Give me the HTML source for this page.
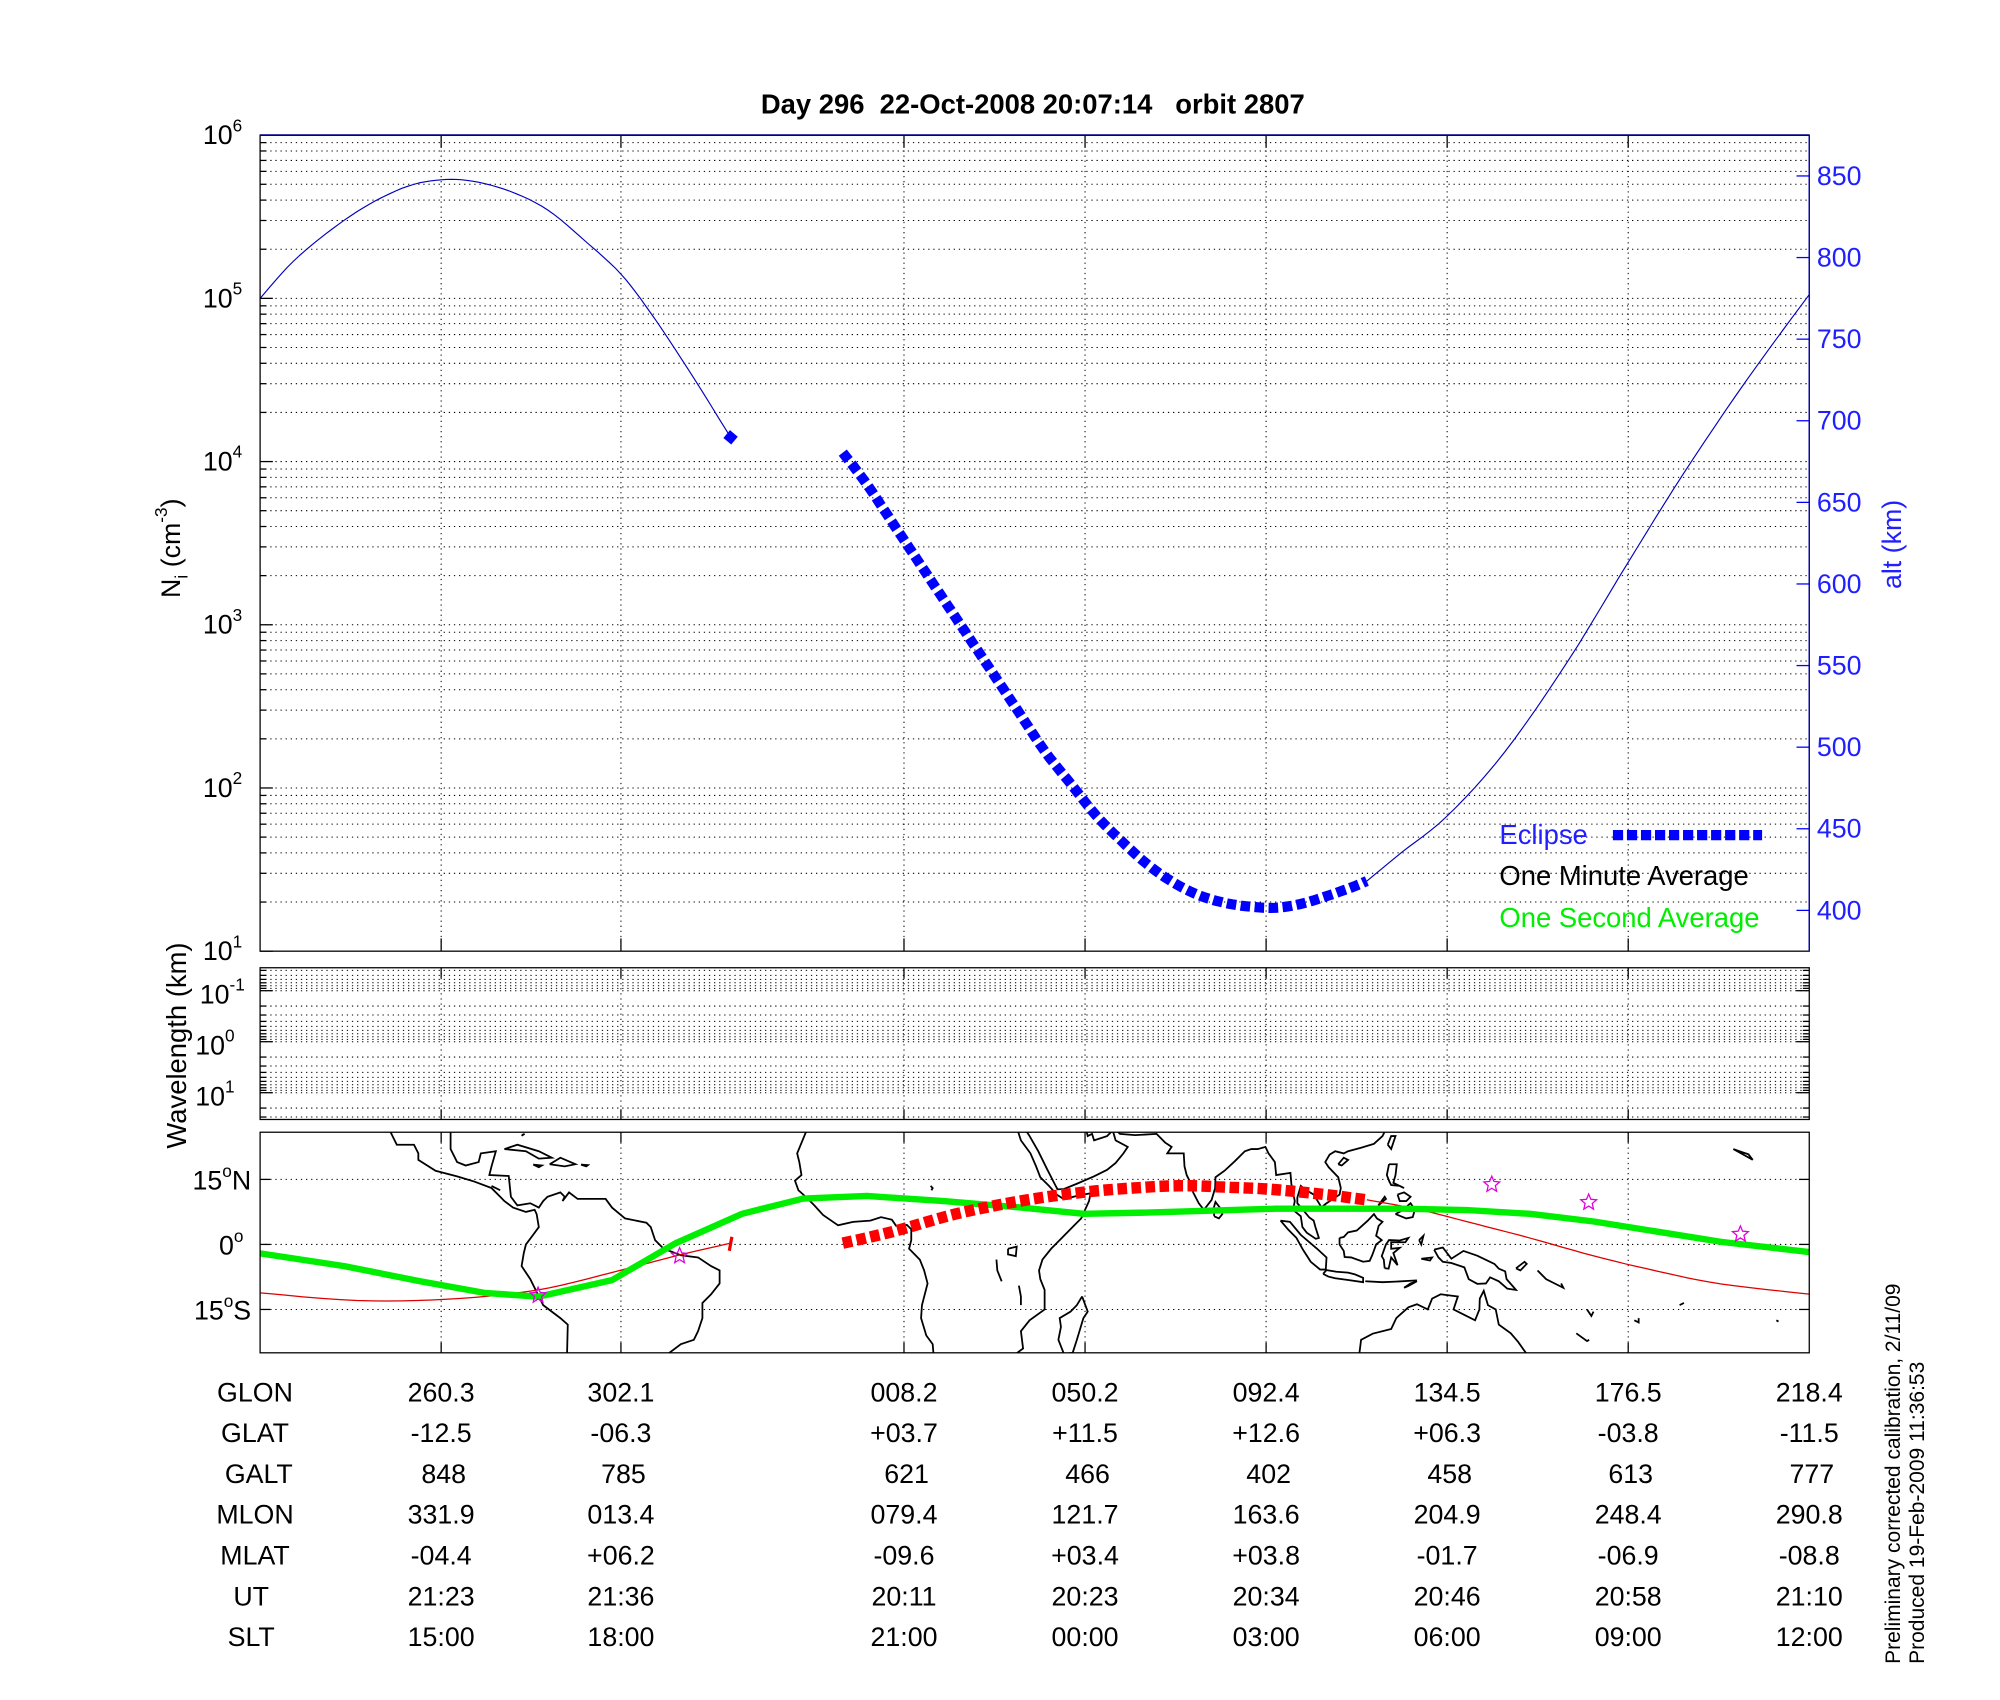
<!DOCTYPE html>
<html><head><meta charset="utf-8"><style>
html,body{margin:0;padding:0;background:#fff;}
svg{display:block;}
text{font-family:"Liberation Sans",Arial,sans-serif;}
</style></head><body>
<svg id="s" xmlns="http://www.w3.org/2000/svg" width="2000" height="1700" viewBox="0 0 1568.6 1333.3" preserveAspectRatio="none">
<rect x="0" y="0" width="1570" height="1334" fill="#fff"/>
<g id="grid"></g>
<clipPath id="mapclip"><rect x="204" y="888" width="1215" height="173"/></clipPath>
<g id="coast" clip-path="url(#mapclip)" fill="none" stroke="#000" stroke-width="1.4"></g>
<g id="data"></g>
<rect x="204" y="106" width="1215" height="640" fill="none" stroke="#000" stroke-width="1"/>
<line x1="204" y1="106" x2="1419" y2="106" stroke="#00008b" stroke-width="1.4"/>
<line x1="1419" y1="106" x2="1419" y2="746" stroke="#0000cc" stroke-width="1"/>
<rect x="204" y="759" width="1215" height="119" fill="none" stroke="#000" stroke-width="1"/>
<rect x="204" y="888" width="1215" height="173" fill="none" stroke="#000" stroke-width="1"/>

<text x="810" y="89" font-size="21.5" font-weight="bold" text-anchor="middle">Day 296&#160; 22-Oct-2008 20:07:14 &#160; orbit 2807</text>

<g font-size="21" text-anchor="end">
<text x="190" y="113">10<tspan font-size="13.5" dy="-10">6</tspan></text>
<text x="190" y="241">10<tspan font-size="13.5" dy="-10">5</tspan></text>
<text x="190" y="369">10<tspan font-size="13.5" dy="-10">4</tspan></text>
<text x="190" y="497">10<tspan font-size="13.5" dy="-10">3</tspan></text>
<text x="190" y="625">10<tspan font-size="13.5" dy="-10">2</tspan></text>
<text x="190" y="753">10<tspan font-size="13.5" dy="-10">1</tspan></text>
</g>
<g font-size="21" text-anchor="end">
<text x="192" y="787">10<tspan font-size="13.5" dy="-10">-1</tspan></text>
<text x="184" y="827">10<tspan font-size="13.5" dy="-10">0</tspan></text>
<text x="184" y="867">10<tspan font-size="13.5" dy="-10">1</tspan></text>
</g>
<g font-size="21" fill="#1f1fff">
<text x="1425" y="145">850</text>
<text x="1425" y="209">800</text>
<text x="1425" y="273">750</text>
<text x="1425" y="337">700</text>
<text x="1425" y="401">650</text>
<text x="1425" y="465">600</text>
<text x="1425" y="529">550</text>
<text x="1425" y="593">500</text>
<text x="1425" y="657">450</text>
<text x="1425" y="721">400</text>
</g>
<text transform="translate(141,430) rotate(-90)" font-size="21" text-anchor="middle">N<tspan font-size="14" dy="6">i</tspan><tspan dy="-6"> (cm</tspan><tspan font-size="13.5" dy="-10">-3</tspan><tspan dy="10">)</tspan></text>
<text transform="translate(1491,427) rotate(-90)" font-size="21" fill="#1f1fff" text-anchor="middle">alt (km)</text>
<text transform="translate(146,820) rotate(-90)" font-size="21.5" text-anchor="middle">Wavelength (km)</text>

<g font-size="21" text-anchor="end">
<text x="197" y="933">15<tspan font-size="13.5" dy="-10">o</tspan><tspan dy="10">N</tspan></text>
<text x="191" y="984">0<tspan font-size="13.5" dy="-10">o</tspan></text>
<text x="197" y="1035">15<tspan font-size="13.5" dy="-10">o</tspan><tspan dy="10">S</tspan></text>
</g>

<g font-size="21.5" fill="#1f1fff"><text x="1176" y="662">Eclipse</text></g>
<text x="1176" y="694" font-size="21.5">One Minute Average</text>
<text x="1176" y="727" font-size="21.5" fill="#00ee00">One Second Average</text>
<line x1="1265" y1="655" x2="1382" y2="655" stroke="#0000ff" stroke-width="8" stroke-dasharray="8 3"/>

<g font-size="21" text-anchor="middle">
<text x="200" y="1099">GLON</text><text x="346" y="1099">260.3</text><text x="487" y="1099">302.1</text><text x="709" y="1099">008.2</text><text x="851" y="1099">050.2</text><text x="993" y="1099">092.4</text><text x="1135" y="1099">134.5</text><text x="1277" y="1099">176.5</text><text x="1419" y="1099">218.4</text>
<text x="200" y="1131">GLAT</text><text x="346" y="1131">-12.5</text><text x="487" y="1131">-06.3</text><text x="709" y="1131">+03.7</text><text x="851" y="1131">+11.5</text><text x="993" y="1131">+12.6</text><text x="1135" y="1131">+06.3</text><text x="1277" y="1131">-03.8</text><text x="1419" y="1131">-11.5</text>
<text x="203" y="1163">GALT</text><text x="348" y="1163">848</text><text x="489" y="1163">785</text><text x="711" y="1163">621</text><text x="853" y="1163">466</text><text x="995" y="1163">402</text><text x="1137" y="1163">458</text><text x="1279" y="1163">613</text><text x="1421" y="1163">777</text>
<text x="200" y="1195">MLON</text><text x="346" y="1195">331.9</text><text x="487" y="1195">013.4</text><text x="709" y="1195">079.4</text><text x="851" y="1195">121.7</text><text x="993" y="1195">163.6</text><text x="1135" y="1195">204.9</text><text x="1277" y="1195">248.4</text><text x="1419" y="1195">290.8</text>
<text x="200" y="1227">MLAT</text><text x="346" y="1227">-04.4</text><text x="487" y="1227">+06.2</text><text x="709" y="1227">-09.6</text><text x="851" y="1227">+03.4</text><text x="993" y="1227">+03.8</text><text x="1135" y="1227">-01.7</text><text x="1277" y="1227">-06.9</text><text x="1419" y="1227">-08.8</text>
<text x="197" y="1259">UT</text><text x="346" y="1259">21:23</text><text x="487" y="1259">21:36</text><text x="709" y="1259">20:11</text><text x="851" y="1259">20:23</text><text x="993" y="1259">20:34</text><text x="1135" y="1259">20:46</text><text x="1277" y="1259">20:58</text><text x="1419" y="1259">21:10</text>
<text x="197" y="1291">SLT</text><text x="346" y="1291">15:00</text><text x="487" y="1291">18:00</text><text x="709" y="1291">21:00</text><text x="851" y="1291">00:00</text><text x="993" y="1291">03:00</text><text x="1135" y="1291">06:00</text><text x="1277" y="1291">09:00</text><text x="1419" y="1291">12:00</text>
</g>
<g font-size="16.5">
<text transform="translate(1490,1305) rotate(-90)">Preliminary corrected calibration, 2/11/09</text>
<text transform="translate(1509,1305) rotate(-90)">Produced 19-Feb-2009 11:36:53</text>
</g>
</svg>
<script>
(function(){
var NS="http://www.w3.org/2000/svg";
function el(p,tag,attrs){var e=document.createElementNS(NS,tag);for(var k in attrs)e.setAttribute(k,attrs[k]);p.appendChild(e);return e;}
var grid=document.getElementById('grid'),data=document.getElementById('data'),coast=document.getElementById('coast');
var gx=[346,487,709,851,993,1135,1277];
var dot={stroke:"#000","stroke-width":"0.8","stroke-dasharray":"1 3",fill:"none"};
function hl(y,x1,x2){var a=Object.assign({x1:x1,x2:x2,y1:y,y2:y},dot);el(grid,'line',a);}
function vl(x,y1,y2){var a=Object.assign({x1:x,x2:x,y1:y1,y2:y2},dot);el(grid,'line',a);}
function tk(x1,y1,x2,y2,c){el(grid,'line',{x1:x1,y1:y1,x2:x2,y2:y2,stroke:c||"#000","stroke-width":"1"});}
for(var d=0;d<5;d++){var yb=746-128*d;for(var k=1;k<=9;k++){var y=yb-128*Math.log10(k);if(k>1||d>0){hl(y,204,1419);} tk(204,y,204+(k==1?10:5),y);} }
hl(106,204,1419);
gx.forEach(function(x){vl(x,106,746);tk(x,746,x,736);tk(x,106,x,116);vl(x,759,878);tk(x,878,x,870);tk(x,759,x,767);vl(x,888,1061);tk(x,1061,x,1053);tk(x,888,x,896);});
for(var a=400;a<=850;a+=50){var y=714-(a-400)*1.28;tk(1409,y,1419,y,"#0000ff");}
[737,777,817,857].forEach(function(yd){for(var k=1;k<=9;k++){var y=yd+40*Math.log10(k);if(y>760&&y<877){hl(y,204,1419);tk(204,y,204+(k==1?10:5),y);tk(1419,y,1419-(k==1?10:5),y);}}});
[925,976,1027].forEach(function(y){hl(y,204,1419);tk(204,y,212,y);tk(1419,y,1411,y);});
function pts(a){return a.map(function(p){return p[0]+","+p[1];}).join(" ");}
function smooth(a,n){var out=[];for(var i=0;i<a.length-1;i++){var p0=a[Math.max(0,i-1)],p1=a[i],p2=a[i+1],p3=a[Math.min(a.length-1,i+2)];for(var t=0;t<n;t++){var s=t/n,s2=s*s,s3=s2*s;var f=function(j){return 0.5*((2*p1[j])+(-p0[j]+p2[j])*s+(2*p0[j]-5*p1[j]+4*p2[j]-p3[j])*s2+(-p0[j]+3*p1[j]-3*p2[j]+p3[j])*s3);};out.push([f(0).toFixed(1),f(1).toFixed(1)]);}}out.push(a[a.length-1]);return out;}
function X(lon){var u=lon< -142?lon+720:lon+360;return 346+(u-260.3)*3.376;}
function Y(lat){return 976-lat*3.4;}
var C=[
[[-112,27],[-110,23],[-106,23],[-105,21],[-105,19.5],[-101,17],[-96,15.7],[-92,14.5],[-88,13],[-86,11],[-85,10],[-83,8.5],[-80,7.5],[-78,8],[-77.5,7],[-77,4],[-78.5,2],[-80,0],[-80.5,-2],[-81,-5],[-79,-8],[-77,-12],[-76,-14],[-72,-17],[-70.3,-18.5],[-70.5,-27]],
[[-97.5,27],[-97.5,22],[-96,19],[-94,18.2],[-91,19],[-90.5,21],[-87,21.5],[-88,18],[-88.5,16],[-84,15.8],[-83.5,11],[-82,9],[-79,9.5],[-77,8.5],[-76,10],[-75,11],[-72,12],[-71,11],[-71.5,10],[-70,12],[-68,10.5],[-64,10.5],[-61.5,10.5],[-60,8.5],[-57,6],[-52,5],[-51,4],[-50,1],[-48,-1],[-44,-2.5],[-40,-3],[-37,-5],[-35,-6],[-35,-9],[-37,-11.5],[-39,-13.5],[-39,-17],[-40,-20],[-41,-22],[-44,-23],[-48,-26]],
[[-85,22],[-82,23],[-77,21.5],[-74,20],[-77,19.8],[-80,21.5],[-85,22]],
[[-74.5,18.5],[-72,20],[-68.5,18.5],[-71,18],[-74.5,18.5]],
[[-78.3,18.4],[-76.3,18.2],[-77,17.8],[-78.3,18.4]],
[[-67.2,18.4],[-65.6,18.3],[-66,18],[-67.2,18.4]],
[[-80.5,25.5],[-81,25.1],[-80.3,25.5]],
[[-14.5,27],[-17,21],[-16.5,19],[-16,16],[-17.5,14.7],[-16.7,12.5],[-15,11],[-13,9],[-11,6.8],[-7.5,4.4],[-4,5.2],[0,5.5],[2.5,6.3],[5,5.7],[6,4.3],[8.5,4.5],[9.5,3.5],[9.5,1],[9,-1],[11.5,-3.5],[12.5,-6],[13.3,-9],[12,-14],[11.8,-17],[13,-21],[14.5,-23],[14.8,-27]],
[[34,27],[35,24],[37.2,21],[38.5,18],[39.5,15.5],[41.5,13.5],[43.3,11.5],[45,10.4],[48,11.2],[51.2,11.8],[50.8,10],[49,6],[47.5,4.5],[45,2],[42,-1],[40,-3.5],[39.2,-6],[39.5,-8],[40.5,-10.5],[40.5,-15],[37,-17.5],[35,-20],[35.5,-24],[32.8,-26]],
[[35,28],[37,25],[39,21.5],[41,17.5],[42.8,14],[43.5,12.7],[45,12.8],[48,14],[52,15.7],[55,17.2],[57,18.8],[58.8,21],[59.8,22.5],[57,24],[56.3,26.3],[55,25],[52,24],[51.5,25.5],[50.5,25],[50,27]],
[[56.5,27],[58,25.5],[61.5,25.2],[66.5,25.5],[68.5,23.5],[70,22.5],[69,21],[72.8,21],[73,18],[73.5,16],[74.5,14],[75,12],[76.3,9.5],[77.5,8],[78.3,9],[79.3,10.3],[80.1,13],[80.2,15.5],[82.3,17],[84.7,19.2],[87,21.5],[88.5,22],[90,22],[91.8,22.5],[92.5,21],[94,19],[94.3,16],[97.6,16.5],[97.8,14],[98.6,10],[98.2,8],[100,6.5],[100.4,4],[101.4,2.7],[103.5,1.3],[104.2,1.5],[103.4,4],[103,5.5],[102,6.2],[100.5,8],[99.2,9.5],[99.2,10.8],[100,13.5],[101,12.7],[103,11.5],[104.8,8.6],[106,9.5],[109,11.5],[109.3,13],[108.7,15.5],[106.5,17.8],[105.7,19],[106.7,20.7],[108,21.5],[110,21],[111,21.5],[114,22.3],[117,23.2],[119,25],[120,27]],
[[79.9,6.5],[79.8,8.5],[80.2,9.8],[81.2,8.5],[81.8,7],[81,6],[79.9,6.5]],
[[49.2,-12],[50.5,-15.5],[49.5,-17],[48,-22],[47,-25],[45,-25.3],[43.7,-22],[44.3,-19],[44,-17],[46.5,-15.5],[48,-14],[49.2,-12]],
[[95.3,5.5],[97.5,5.2],[100,2.2],[103.8,-1],[106,-3],[105.8,-5.8],[104.5,-5.8],[102.3,-4],[100.5,-1.2],[99,1.5],[97,3.5],[95.3,5.5]],
[[105.2,-6.8],[106,-5.9],[108.3,-6.3],[111,-6.5],[112.6,-6.9],[114.5,-7.7],[114.5,-8.7],[111,-8.2],[108,-7.8],[106.4,-7.4],[105.2,-6.8]],
[[109,1.5],[110,1.7],[111,2.8],[113,3.2],[115.5,5.4],[117,7],[117.7,6],[119,5.2],[118.1,4.3],[117.5,2],[118.8,1],[117.5,0],[116.6,-2.5],[116,-3.8],[114.5,-4],[111.7,-3],[110.2,-2.9],[110,-1.5],[109,0],[109,1.5]],
[[119.5,-5.5],[119.3,-3.5],[118.8,-2.7],[119.8,0],[120.5,1],[123,0.9],[125,1.5],[124.3,0.5],[121,0.5],[121,-1],[123,-0.8],[121.5,-2],[122.5,-4.8],[121,-3],[120.4,-5.6],[119.5,-5.5]],
[[120.5,18.5],[122.3,18.5],[122,16],[121.5,14.2],[124,13],[123,13.5],[121,13.7],[120.6,14.5],[120,16],[120.5,18.5]],
[[122,7],[123.5,7.8],[125.5,9.5],[126.5,8],[126,6.3],[124.5,6],[122,7]],
[[122.5,11.5],[124,12],[125.5,11],[124.5,10],[123,10],[122.5,11.5]],
[[118,9],[119.5,11],[119.8,10.5],[118,9]],
[[120.2,23],[121,25],[122,25],[121,22],[120.2,23]],
[[108.7,18.5],[110,20],[111,19.5],[109.5,18.2],[108.7,18.5]],
[[131,-1.2],[133,-0.7],[135,-3.3],[137.8,-1.5],[141,-2.6],[145,-4.5],[146,-5.6],[147.5,-6.2],[147.8,-8],[150,-10.5],[148,-10.2],[146,-8.5],[144,-7.6],[143,-9],[141,-9.1],[139,-8],[138,-5.3],[135,-4.3],[133,-4],[132,-3],[131,-1.2]],
[[113.5,-26],[114,-22],[116.7,-20.6],[121,-19.5],[122.2,-17],[125,-14.5],[127,-13.8],[129.5,-15],[130.5,-12.5],[132.5,-11.5],[136.5,-12],[136,-13.5],[135.5,-15],[137.5,-16],[140.5,-17.5],[141.5,-15],[141.6,-12.5],[142.5,-10.7],[143.5,-14],[145.3,-15],[146,-18.5],[148.8,-20.5],[150.5,-22.5],[153,-26]],
[[115,-8.5],[119,-8.7],[122,-8.6],[125,-8.4],[127,-8.3]],
[[124,-10],[125.5,-9],[127,-8.5],[125,-9.6],[124,-10]],
[[127.5,1],[128.5,2],[128,0],[127.5,1]],
[[128,-3.3],[130.5,-3],[130,-3.7],[128,-3.3]],
[[150,-5.5],[152,-4],[152.5,-4.5],[151,-6],[150,-5.5]],
[[155,-6],[157,-8],[160,-9.5],[161,-10],[160.5,-9]],
[[166.5,-15],[167.5,-16.5],[168,-15.5]],
[[164,-20.5],[166.5,-22.3],[167,-22]],
[[177.5,-17.5],[178.5,-18],[178.5,-17]],
[[-155,19.5],[-156,20.8],[-157.5,21.3],[-159.5,22],[-155,19.5]],
[[-171,-13.5],[-172,-14]],
[[-149.5,-17.5],[-149,-17.8]],
[[32,-1],[34,-0.5],[33.8,-2.7],[32,-2.3],[32,-1]],
[[29.3,-3.5],[29.5,-6],[30.5,-8.5]],
[[34.5,-9.5],[35,-12],[35,-14]],
[[14,13.5],[14.5,13],[14.2,12.5]],
[[-88,13.5],[-86,12.5]],
[[-78,-0.5],[-77.9,-0.6]]
];
C.forEach(function(c){el(coast,'polyline',{points:pts(c.map(function(p){return [X(p[0]).toFixed(1),Y(p[1]).toFixed(1)];}))});});
var left=[[204,234],[230,205],[260,180],[290,160],[320,146],[346,141],[370,142],[400,150],[430,165],[460,190],[487,215],[510,245],[540,290],[573,343]];
el(data,'polyline',{points:pts(smooth(left,6)),fill:"none",stroke:"#0000bb","stroke-width":"0.9"});
el(data,'rect',{x:569,y:339,width:8,height:8,fill:"#0000ff",transform:"rotate(40 573 343)"});
var right=[[1072,691],[1100,668],[1135,640],[1180,590],[1230,518],[1277,441],[1320,372],[1370,298],[1419,231]];
el(data,'polyline',{points:pts(smooth(right,6)),fill:"none",stroke:"#0000bb","stroke-width":"0.9"});
var ecl=[[661,355],[680,380],[700,410],[720,440],[740,470],[760,500],[780,530],[800,560],[820,590],[840,615],[860,640],[880,660],[900,678],[920,692],[940,702],[960,708],[980,711],[1000,712],[1020,709],[1040,703],[1060,696],[1072,691]];
el(data,'polyline',{points:pts(smooth(ecl,6)),fill:"none",stroke:"#0000ff","stroke-width":"8","stroke-dasharray":"7.5 3.5"});
var rl=[[204,1014],[280,1020],[350,1019],[420,1012],[480,998],[530,985],[573,975]];
el(data,'polyline',{points:pts(smooth(rl,6)),fill:"none",stroke:"#dd0000","stroke-width":"1"});
el(data,'line',{x1:574,y1:970,x2:572,y2:981,stroke:"#ee0000","stroke-width":"2.5"});
var rr=[[1072,941],[1110,948],[1150,958],[1200,971],[1250,985],[1300,997],[1350,1007],[1419,1015]];
el(data,'polyline',{points:pts(smooth(rr,6)),fill:"none",stroke:"#dd0000","stroke-width":"1"});
var gr=[[204,983],[270,993],[330,1005],[380,1014],[422,1017],[480,1004],[530,975],[582,952],[630,940],[680,938],[740,942],[800,947],[850,952],[900,951],[1000,948],[1100,948],[1150,949],[1200,952],[1250,958],[1300,966],[1350,974],[1419,982]];
el(data,'polyline',{points:pts(gr),fill:"none",stroke:"#00ee00","stroke-width":"5","stroke-linejoin":"round"});
var rt=[[661,975],[700,966],[750,952],[800,942],[850,935],[900,931],[930,930],[960,931],[1000,933],[1040,937],[1072,941]];
el(data,'polyline',{points:pts(smooth(rt,6)),fill:"none",stroke:"#ff0000","stroke-width":"9","stroke-dasharray":"7.5 3.5"});
function star(cx,cy,r){var p=[];for(var i=0;i<10;i++){var rr2=i%2?r*0.45:r;var a=-Math.PI/2+i*Math.PI/5;p.push([(cx+rr2*Math.cos(a)).toFixed(1),(cy+rr2*Math.sin(a)).toFixed(1)]);}el(data,'polygon',{points:pts(p),fill:"none",stroke:"#e000e0","stroke-width":"1"});}
[[422,1016],[533,985],[1170,929],[1246,943],[1365,968]].forEach(function(s){star(s[0],s[1],6.5);});
})();
</script>
</body></html>
